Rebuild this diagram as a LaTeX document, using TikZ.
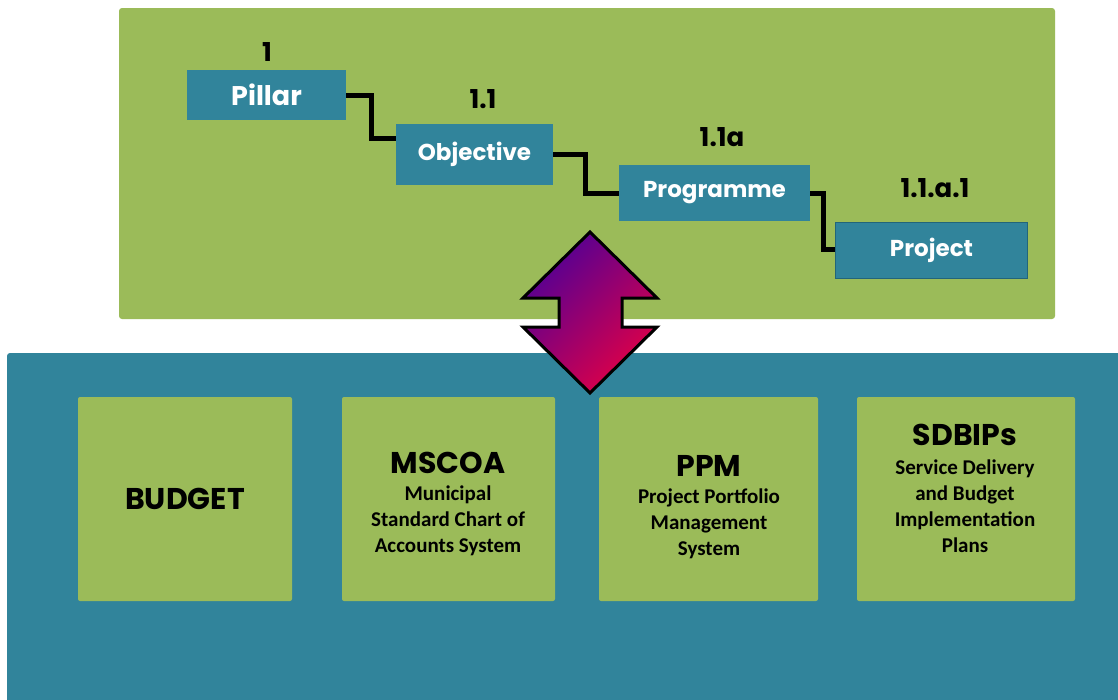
\documentclass[tikz,border=0pt]{standalone}
\usepackage{fontspec}
\usepackage{tikz}
\usetikzlibrary{positioning, calc}
\newfontfamily\gothic{Poppins}
\newfontfamily\calib{Carlito}
\definecolor{leafgreen}{HTML}{9BBB59}
\definecolor{seateal}{HTML}{31849B}
\definecolor{rimteal}{HTML}{22657A}
\definecolor{arrowtop}{RGB}{80,0,150}
\definecolor{arrowbot}{RGB}{225,0,70}

\begin{document}
\begin{tikzpicture}[x=1pt, y=-1pt,
    level/.style={fill=seateal, text=white, inner sep=0pt, font=\gothic\bfseries\fontsize{23}{26}\selectfont},
    num/.style={anchor=base, font=\gothic\bfseries\fontsize{26}{28}\selectfont},
    link/.style={line width=5pt, line join=miter},
    tile/.style={fill=leafgreen, rounded corners=2pt, inner sep=0pt, minimum height=204pt},
    head/.style={anchor=base, font=\gothic\bfseries\fontsize{30}{32}\selectfont},
    desc/.style={anchor=north, inner sep=0pt, align=center, font=\calib\bfseries\fontsize{21}{26}\selectfont}]
    \useasboundingbox (0,0) rectangle (1118,699);
    \fill[white] (0,0) rectangle (1118,699);
    % panels
    \fill[leafgreen, rounded corners=3pt] (119,8) rectangle (1055,319);
    \fill[seateal, rounded corners=3pt] (7,353) rectangle (1130,712);
    % the levels
    \node[level, minimum width=159pt, minimum height=50pt, font=\gothic\bfseries\fontsize{27}{30}\selectfont] (pillar) at (266.5,95) {Pillar};
    \node[level, minimum width=157pt, minimum height=61pt] (objective) at (474.5,154.5) {Objective};
    \node[level, minimum width=191pt, minimum height=56pt] (programme) at (714.5,193) {Programme};
    \node[level, draw=rimteal, line width=1.5pt, minimum width=192pt, minimum height=56pt] (project) at (931.5,250.5) {Project};
    \node[num] at (267,61) {1};
    \node[num] at (483,108) {1.1};
    \node[num] at (722,146) {1.1a};
    \node[num] at (935,197) {1.1.a.1};
    \draw[link] (pillar.east) -- ++(25,0) |- ([yshift=16.5pt]objective.west);
    \draw[link] (objective.east) -- ++(32,0) |- (programme.west);
    \draw[link] (programme.east) -- ++(13,0) |- ([yshift=1.5pt]project.west);
    % two way arrow
    \path[draw=black, line width=3pt, line join=miter, top color=arrowtop, bottom color=arrowbot, shading angle=45]
        (590,232) -- (657,298) -- (622,298) -- (622,327) -- (657,327) -- (590,393)
        -- (523,327) -- (559,327) -- (559,298) -- (523,298) -- cycle;
    % systems
    \node[tile, minimum width=214pt, font=\gothic\bfseries\fontsize{30}{32}\selectfont] (budget) at (185,499) {BUDGET};
    \node[tile, minimum width=213pt] (mscoa) at (448.5,499) {};
    \node[tile, minimum width=219pt] (ppm) at (708.5,499) {};
    \node[tile, minimum width=218pt] (sdbip) at (966,499) {};
    \node[head] at (448,473) {MSCOA};
    \node[desc] at (448,486) {Municipal\\Standard Chart of\\Accounts System};
    \node[head] at (709,476) {PPM};
    \node[desc] at (709,489) {Project Portfolio\\Management\\System};
    \node[head] at (965,445) {SDBIPs};
    \node[desc] at (965,460) {Service Delivery\\and Budget\\Implementation\\Plans};
\end{tikzpicture}
\end{document}
